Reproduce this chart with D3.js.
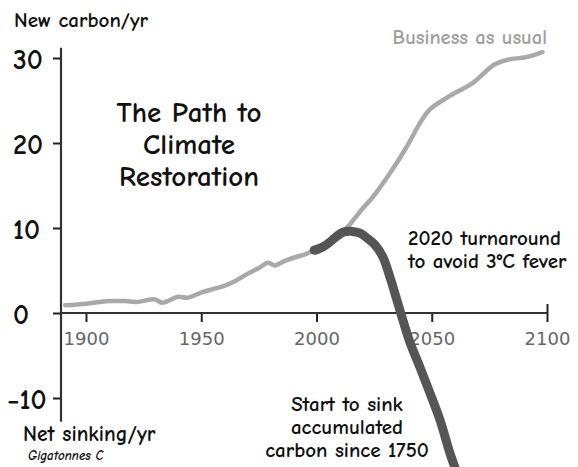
<!DOCTYPE html>
<html>
<head>
<meta charset="utf-8">
<script src="https://cdn.jsdelivr.net/npm/d3@7"></script>
<style>
  body { margin: 0; background: #fff; }
  svg { display: block; }
  .hand { font-family: "Comic Sans MS", "Comic Neue", "DejaVu Sans", sans-serif; font-weight: bold; }
</style>
</head>
<body>
<div id="chart"></div>
<script>
// values (years, gigatonnes C per year)
const bauYears  = [1891, 1900, 1910, 1917, 1922, 1930, 1933, 1940, 1944, 1950, 1955, 1960, 1965, 1970, 1975, 1979, 1982, 1986, 1990, 1995, 1998, 2000, 2005, 2010, 2015, 2020, 2024, 2032, 2039, 2045, 2049, 2057, 2068, 2077, 2083, 2091, 2098];
const bauValues = [0.9, 1.1, 1.4, 1.4, 1.3, 1.6, 1.2, 1.9, 1.8, 2.4, 2.8, 3.2, 3.8, 4.6, 5.3, 5.9, 5.6, 6.1, 6.5, 6.9, 7.2, 7.1, 8.2, 9.2, 10.6, 12.3, 13.5, 16.5, 19.5, 22.4, 23.9, 25.4, 27.1, 29.2, 29.8, 30.1, 30.7];

const pathYears  = [1999, 2003, 2011.5, 2015.4, 2018.9, 2022, 2025.4, 2028.8, 2031.9, 2034.9, 2037.1, 2040.6, 2044.9, 2049.2, 2053.6, 2057.9, 2060.5];
const pathValues = [7.4, 7.8, 9.5, 9.6, 9.4, 8.8, 8.0, 6.6, 4.2, 1.5, -0.5, -3.5, -6.4, -9.4, -12.6, -16.5, -18.5];

const xTicks = [1900, 1950, 2000, 2050, 2100];
const yTicks = [-10, 0, 10, 20, 30];

const width = 578, height = 467;
const yAxisX = 61;

const svg = d3.select("#chart").append("svg")
    .attr("width", width)
    .attr("height", height);

const x = d3.scaleLinear().domain([1900, 2100]).range([86, 547]);
const y = d3.scaleLinear().domain([-10, 30]).range([398, 58]);

// y axis
const yAxis = svg.append("g")
    .attr("transform", "translate(" + yAxisX + ",0)")
    .call(d3.axisLeft(y).tickValues(yTicks).tickSize(8).tickSizeOuter(0));
yAxis.select(".domain").remove();
yAxis.selectAll(".tick line").attr("stroke", "#222").attr("stroke-width", 2);
yAxis.selectAll(".tick text")
    .attr("class", "hand")
    .attr("text-anchor", "start")
    .attr("x", d => d < 0 ? -54 : -48)
    .attr("dy", "0.36em")
    .style("font-size", "28px")
    .attr("fill", "#111");
svg.append("line")
    .attr("x1", yAxisX).attr("x2", yAxisX)
    .attr("y1", y(31.2)).attr("y2", y(-12.8))
    .attr("stroke", "#333").attr("stroke-width", 2.2);

// x axis along zero
const xAxis = svg.append("g")
    .attr("transform", "translate(0," + y(0) + ")")
    .call(d3.axisBottom(x).tickValues(xTicks).tickSize(9).tickSizeOuter(0).tickFormat(d3.format("d")));
xAxis.select(".domain").remove();
xAxis.selectAll(".tick line").attr("stroke", "#222").attr("stroke-width", 2);
xAxis.selectAll(".tick text")
    .attr("y", 19)
    .style("font-family", "'DejaVu Sans', Verdana, sans-serif")
    .style("font-size", "18px")
    .attr("fill", "#666");
xAxis.selectAll(".tick").filter(d => d === 2100).append("line")
    .attr("y1", 0).attr("y2", -9)
    .attr("stroke", "#222").attr("stroke-width", 2);
svg.append("line")
    .attr("x1", yAxisX).attr("x2", x(2100))
    .attr("y1", y(0)).attr("y2", y(0))
    .attr("stroke", "#333").attr("stroke-width", 2);

// lines
const line = d3.line()
    .x(d => x(d[0]))
    .y(d => y(d[1]))
    .curve(d3.curveCatmullRom);

svg.append("path")
    .datum(bauYears.map((yr, i) => [yr, bauValues[i]]))
    .attr("d", line)
    .attr("fill", "none")
    .attr("stroke", "#a9a9a9")
    .attr("stroke-width", 4.5)
    .attr("stroke-linecap", "round")
    .attr("stroke-linejoin", "round");

svg.append("path")
    .datum(pathYears.map((yr, i) => [yr, pathValues[i]]))
    .attr("d", line)
    .attr("fill", "none")
    .attr("stroke", "#555")
    .attr("stroke-width", 9)
    .attr("stroke-linecap", "round")
    .attr("stroke-linejoin", "round");

// texts
function addText(lines, px, py, size, anchor, color, lineH) {
    const t = svg.append("text")
        .attr("class", "hand")
        .attr("x", px).attr("y", py)
        .attr("text-anchor", anchor)
        .attr("fill", color)
        .style("font-size", size + "px");
    lines.forEach((s, i) => {
        t.append("tspan").attr("x", px).attr("y", py + i * lineH).text(s);
    });
    return t;
}

addText(["New carbon/yr"], 14, 27, 21, "start", "#111", 0);
addText(["The Path to", "Climate", "Restoration"], 189, 122, 29, "middle", "#111", 32);
addText(["Business as usual"], 547, 44, 20.5, "end", "#a0a0a0", 0);
addText(["2020 turnaround", "to avoid 3\u00B0C fever"], 408, 245, 21, "start", "#111", 23);
addText(["Start to sink", "accumulated", "carbon since 1750"], 347, 411, 21, "middle", "#111", 23);
addText(["Net sinking/yr"], 23, 441, 21.5, "start", "#111", 0);
addText(["Gigatonnes C"], 28, 460, 13, "start", "#111", 0)
    .style("font-style", "italic");
</script>
</body>
</html>
